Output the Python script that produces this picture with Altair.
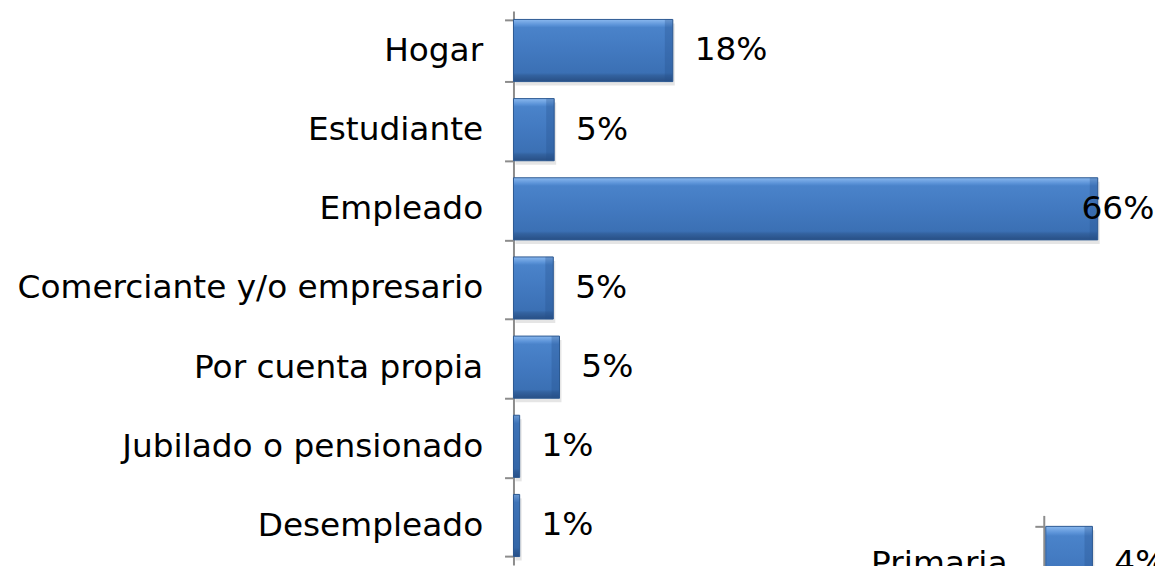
import altair as alt
import pandas as pd

# Main chart data
categories = ["Hogar", "Estudiante", "Empleado", "Comerciante y/o empresario",
              "Por cuenta propia", "Jubilado o pensionado", "Desempleado"]
values = [18.0, 4.6, 66.0, 4.5, 5.2, 0.7, 0.7]

# Fragment of the next chart (cut off at the bottom)
categories2 = ["Primaria"]
values2 = [4.0]

df1 = pd.DataFrame({"cat": categories, "v": values})
df2 = pd.DataFrame({"cat": categories2, "v": values2})

FONT = "DejaVu Sans"

grad = alt.Gradient(
    gradient="linear", x1=0, x2=0, y1=0, y2=1,
    stops=[
        alt.GradientStop(offset=0.0, color="#8ab8ee"),
        alt.GradientStop(offset=0.09, color="#5b93d8"),
        alt.GradientStop(offset=0.13, color="#4a83ca"),
        alt.GradientStop(offset=0.5, color="#4279c0"),
        alt.GradientStop(offset=0.86, color="#3b70b4"),
        alt.GradientStop(offset=0.9, color="#33629f"),
        alt.GradientStop(offset=1.0, color="#284f85"),
    ],
)


def make_axis(offset=0, pad=22):
    return alt.Axis(
        orient="left", offset=offset, title=None,
        domainColor="#8c8c8c", domainWidth=2,
        tickColor="#8c8c8c", tickWidth=2, tickSize=9, tickBand="extent",
        labelFont=FONT, labelFontSize=33, labelColor="#000000",
        labelPadding=pad, labelLimit=800, grid=False,
    )


def panel(df, xscale, yscale, axis, bevel):
    order = list(df["cat"])
    base = alt.Chart(df).transform_calculate(
        label="format(round(datum.v), 'd') + '%'",
        lx="datum.v > 60 ? datum.v - 4.3 : datum.v",
        bx=f"max(0, datum.v - {bevel})",
    )
    y = alt.Y("cat:N", sort=order, scale=yscale, axis=axis)
    shadow = base.mark_bar(color="#000000", opacity=0.1, xOffset=2, yOffset=4).encode(
        x=alt.X("v:Q", scale=xscale, axis=None), y=y)
    bars = base.mark_bar(color=grad, stroke="#2d5a92", strokeWidth=1).encode(
        x=alt.X("v:Q", scale=xscale, axis=None), y=y)
    edge = base.mark_bar(color="#24508c", opacity=0.3).encode(
        x=alt.X("bx:Q", scale=xscale, axis=None), x2="v:Q", y=y)
    text = base.mark_text(align="left", baseline="middle", dx=22, font=FONT,
                          fontSize=33, color="#000000").encode(
        x=alt.X("lx:Q", scale=xscale, axis=None), y=y, text="label:N")
    return alt.layer(shadow, bars, edge, text)


p1 = panel(
    df1,
    alt.Scale(domain=[0, 70], nice=False, zero=True),
    alt.Scale(paddingInner=0.215, paddingOuter=0.1075),
    make_axis(),
    0.9,
)
p2 = panel(
    df2,
    alt.Scale(domain=[0, 10], nice=False, zero=True, range=[536, 653.5]),
    alt.Scale(paddingInner=0.23, paddingOuter=0.115, range=[508, 604]),
    make_axis(offset=-534, pad=28),
    0.68,
)

chart = (
    alt.layer(p1, p2)
    .resolve_scale(x="independent", y="independent")
    .properties(
        width=624, height=558,
        autosize=alt.AutoSizeParams(type="none"),
        padding={"left": 509, "top": 1, "right": 22, "bottom": 0},
        view=alt.ViewBackground(stroke="transparent", strokeWidth=0),
    )
    .configure_view(stroke="transparent", strokeWidth=0)
    .configure(background="white")
)

chart.save("out.html", embed_options={"renderer": "svg", "actions": False})
